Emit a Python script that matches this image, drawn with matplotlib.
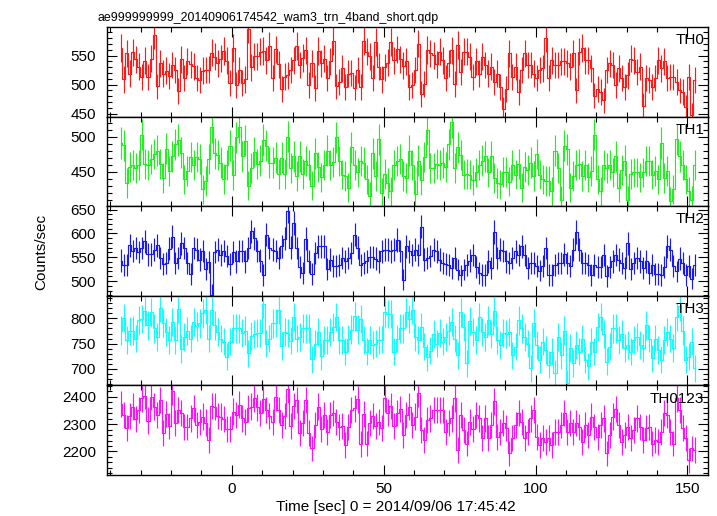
import numpy as np
import matplotlib.pyplot as plt
from matplotlib.ticker import MultipleLocator

plt.rcParams['font.family'] = ['Liberation Sans', 'DejaVu Sans']

# time of first 1-s bin centre (sec from 2014/09/06 17:45:42)
T0 = -36.6

th0 = [563, 509, 554, 519, 556, 544, 531, 513, 541, 513, 545, 586, 497, 537, 519, 524, 515, 534, 525, 489,
       544, 511, 540, 535, 532, 511, 508, 524, 525, 526, 555, 548, 537, 545, 558, 541, 503, 563, 499, 525,
       503, 509, 596, 530, 549, 549, 557, 558, 542, 567, 511, 561, 535, 493, 514, 516, 525, 542, 567, 534,
       546, 559, 499, 537, 494, 558, 537, 545, 511, 540, 576, 497, 505, 528, 496, 519, 520, 495, 525, 496,
       576, 557, 549, 511, 573, 531, 509, 530, 538, 573, 542, 561, 544, 533, 540,
       496, 499, 525, 571, 484, 502, 560, 554, 551, 535, 557, 542, 511, 537, 559, 502, 569, 522, 557, 557,
       548, 513, 540, 519, 548, 534, 519, 531, 505, 519, 496, 458, 493, 554, 513, 531, 487, 525, 554, 534,
       534, 519, 511, 525, 528, 580, 511, 542, 534, 534, 540, 540, 537, 531, 554, 490, 557, 563, 542, 542,
       528, 481, 493, 487, 473, 525, 537, 534, 499, 528, 511, 496, 516, 545, 542, 522, 531, 464, 511, 508,
       496, 511, 542, 528, 540, 511, 513, 513, 505, 490, 487, 461, 513, 447, 508]

th1 = [491, 488, 434, 457, 460, 456, 460, 503, 461, 460, 468, 475, 480, 461, 441, 483, 451, 472, 489, 495,
       477, 439, 451, 471, 460, 471, 468, 425, 437, 468, 513, 476, 474, 463, 440, 460, 487, 445, 499, 513,
       472, 494, 430, 456, 478, 461, 466, 495, 487, 463, 463, 470, 447, 470, 447, 500, 456, 472, 444, 472,
       447, 465, 460, 430, 476, 457, 442, 460, 480, 460, 464, 499, 465, 446, 444, 427, 485, 460, 449, 465,
       463, 439, 415, 476, 444, 496, 420, 447, 434, 422, 460, 465, 468, 444, 441,
       480, 460, 418, 466, 438, 471, 510, 456, 455, 461, 460, 463, 457, 489, 521, 456, 485, 474, 446, 447,
       446, 438, 449, 460, 466, 472, 449, 472, 441, 434, 432, 450, 450, 436, 460, 446, 461, 427, 457, 453,
       463, 444, 475, 446, 439, 437, 437, 422, 480, 456, 410, 487, 482, 427, 444, 460, 461, 444, 460, 442,
       451, 503, 439, 422, 460, 456, 460, 449, 472, 427, 453, 466, 410, 447, 449, 449, 442, 449, 465, 465,
       446, 451, 439, 491, 441, 451, 408, 425, 496, 472, 460, 439, 422, 410, 460]

th2 = [543, 534, 534, 575, 563, 569, 561, 569, 583, 556, 556, 566, 575, 548, 536, 538, 568, 593, 538, 548,
       579, 569, 538, 515, 569, 566, 545, 563, 526, 540, 471, 561, 566, 555, 563, 552, 536, 561, 541, 563,
       563, 541, 569, 604, 590, 563, 543, 513, 597, 569, 566, 563, 548, 573, 589, 647, 570, 621, 569, 529,
       517, 589, 541, 515, 559, 573, 573, 573, 526, 545, 531, 531, 534, 548, 541, 548, 559, 597, 570, 534,
       538, 541, 550, 550, 547, 541, 562, 566, 566, 562, 566, 586, 563, 503, 573,
       562, 554, 566, 555, 614, 545, 548, 552, 566, 562, 545, 538, 536, 534, 527, 548, 524, 512, 524, 534,
       543, 555, 529, 517, 513, 513, 541, 527, 603, 548, 566, 563, 541, 538, 548, 562, 555, 573, 555, 527,
       538, 538, 531, 522, 531, 569, 513, 513, 533, 538, 538, 556, 538, 531, 566, 603, 566, 538, 538, 534,
       513, 533, 529, 529, 555, 510, 529, 541, 555, 545, 538, 527, 579, 526, 538, 548, 541, 527, 541, 517,
       534, 515, 515, 513, 529, 573, 566, 531, 520, 547, 538, 513, 531, 505, 534]

th3 = [776, 801, 757, 775, 776, 760, 796, 799, 814, 786, 812, 780, 763, 821, 791, 773, 757, 793, 757, 819,
       739, 763, 775, 760, 793, 784, 790, 810, 817, 760, 816, 786, 773, 760, 754, 724, 754, 780, 780, 780,
       771, 776, 731, 765, 770, 771, 771, 829, 750, 760, 790, 791, 817, 745, 773, 771, 756, 803, 760, 763,
       780, 780, 780, 719, 750, 773, 725, 757, 757, 773, 783, 803, 757, 757, 734, 760, 778, 804, 778, 799,
       757, 734, 757, 747, 750, 757, 758, 812, 809, 809, 734, 760, 780, 780, 812,
       799, 817, 763, 757, 783, 744, 723, 736, 770, 750, 771, 754, 763, 776, 793, 760, 727, 812, 783, 711,
       795, 773, 757, 803, 773, 763, 796, 770, 814, 757, 747, 771, 769, 773, 727, 744, 796, 780, 763, 750,
       701, 791, 747, 718, 754, 737, 708, 734, 692, 763, 727, 776, 672, 741, 711, 747, 734, 760, 718, 705,
       754, 734, 783, 803, 770, 714, 744, 780, 780, 757, 770, 741, 747, 734, 757, 763, 747, 741, 786, 760,
       721, 760, 737, 718, 757, 773, 760, 741, 803, 824, 776, 718, 724, 754, 701]

th0123 = [2374, 2334, 2285, 2330, 2364, 2318, 2352, 2395, 2404, 2313, 2401, 2364, 2334, 2389, 2269, 2337, 2293, 2420, 2303, 2352,
          2340, 2291, 2291, 2321, 2358, 2297, 2309, 2328, 2306, 2242, 2367, 2364, 2330, 2328, 2318, 2281, 2281, 2346, 2334, 2371,
          2321, 2309, 2358, 2364, 2395, 2362, 2340, 2391, 2352, 2330, 2309, 2399, 2352, 2297, 2330, 2428, 2293, 2367, 2389, 2266,
          2303, 2389, 2269, 2211, 2297, 2364, 2281, 2334, 2272, 2334, 2340, 2309, 2291, 2293, 2223, 2291, 2352, 2358, 2391, 2227,
          2337, 2229, 2303, 2330, 2293, 2309, 2285, 2395, 2342, 2367, 2293, 2340, 2355, 2260, 2334,
          2364, 2297, 2328, 2413, 2279, 2242, 2315, 2321, 2352, 2352, 2352, 2352, 2272, 2303, 2321, 2395, 2205, 2334, 2279, 2229,
          2309, 2281, 2334, 2321, 2248, 2321, 2248, 2297, 2383, 2252, 2272, 2303, 2285, 2193, 2248, 2297, 2340, 2309, 2248, 2272,
          2321, 2352, 2254, 2223, 2248, 2236, 2248, 2223, 2272, 2272, 2297, 2340, 2272, 2303, 2272, 2303, 2291, 2236, 2297, 2260,
          2328, 2291, 2254, 2297, 2321, 2193, 2260, 2328, 2355, 2297, 2236, 2260, 2291, 2248, 2279, 2321, 2291, 2242, 2285, 2291,
          2229, 2242, 2236, 2272, 2340, 2334, 2272, 2229, 2395, 2352, 2285, 2248, 2168, 2211, 2205]

names = ['TH0', 'TH1', 'TH2', 'TH3', 'TH0123']
colors = ['#ff1a1a', '#22ee22', '#1a1aee', '#11ffff', '#ff11ff']
ylims = [(445, 599.5), (401, 528.5), (469, 657), (667, 845), (2114, 2442)]
ymajor = [50, 50, 50, 50, 100]
yminor = [10, 10, 10, 10, 20]

fig, axes = plt.subplots(5, 1, sharex=True, figsize=(7.17, 5.16), dpi=100)
fig.subplots_adjust(left=0.1492, right=0.988, top=0.9477, bottom=0.0795, hspace=0)

for ax, v, name, c, yl, mj, mn in zip(axes, [th0, th1, th2, th3, th0123], names, colors, ylims, ymajor, yminor):
    v = np.array(v, dtype=float)
    t = T0 + np.arange(len(v))
    ax.errorbar(t, v, yerr=np.sqrt(v), fmt='none', ecolor=c, elinewidth=0.85)
    ax.step(t, v, where='mid', color=c, lw=0.85)
    ax.set_ylim(yl)
    ax.yaxis.set_major_locator(MultipleLocator(mj))
    ax.yaxis.set_minor_locator(MultipleLocator(mn))
    ax.tick_params(which='both', direction='in', top=True, right=True, labelsize=11, width=0.8)
    ax.tick_params(axis='y', which='major', length=7, pad=8)
    ax.tick_params(axis='y', which='minor', length=3.5)
    ax.tick_params(axis='x', which='major', length=7, pad=5)
    ax.tick_params(axis='x', which='minor', length=3.5)
    for s in ax.spines.values():
        s.set_linewidth(1.0)
    ax.text(0.993, 0.93, name, transform=ax.transAxes, ha='right', va='top', fontsize=11)

axes[-1].set_xlim(-41.1, 156.9)
axes[-1].xaxis.set_major_locator(MultipleLocator(50))
axes[-1].xaxis.set_minor_locator(MultipleLocator(10))

fig.text(97 / 717, 1 - 21 / 516, 'ae999999999_20140906174542_wam3_trn_4band_short.qdp',
         fontsize=8.9, ha='left', va='baseline')
fig.text(41 / 717, 1 - 252 / 516, 'Counts/sec', rotation=90, ha='center', va='center', fontsize=11)
fig.text(396 / 717, 1 - 507 / 516, 'Time [sec] 0 = 2014/09/06 17:45:42', ha='center', va='center', fontsize=11)

fig.savefig('out.png', dpi=100)
